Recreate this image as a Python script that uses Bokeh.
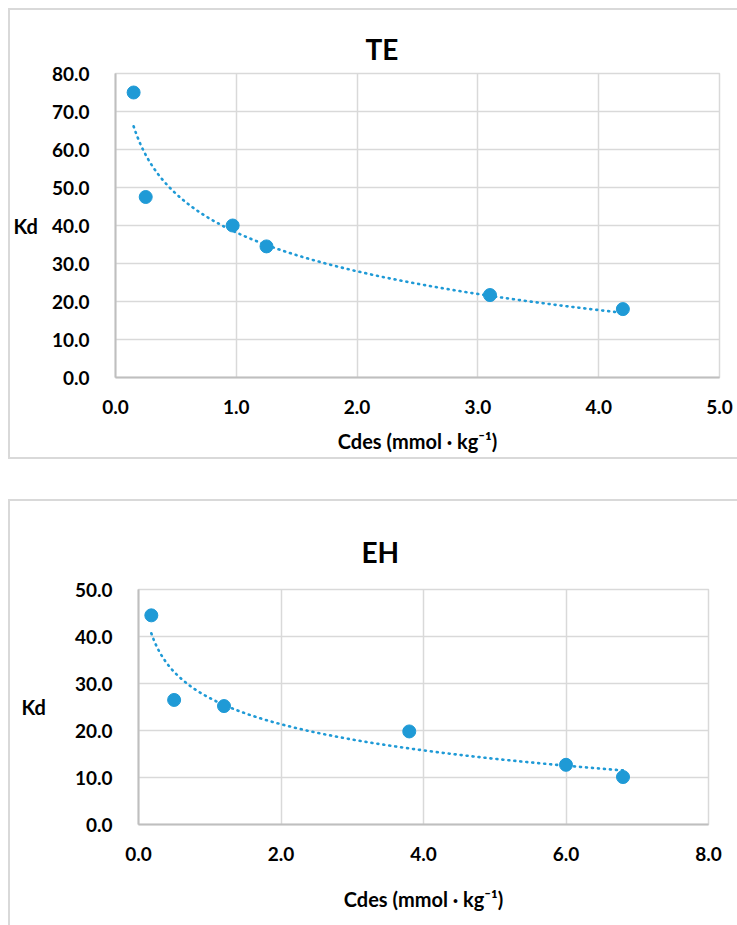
import numpy as np
from bokeh.plotting import figure
from bokeh.models import FixedTicker, PrintfTickFormatter, Range1d
from bokeh.embed import file_html
from bokeh.resources import INLINE

# ---- data ----
te_title = "TE"
te_cdes = [0.15, 0.25, 0.97, 1.25, 3.10, 4.20]
te_kd = [75.0, 47.5, 40.0, 34.5, 21.7, 18.0]
te_xticks = [0, 1, 2, 3, 4, 5]
te_yticks = [0, 10, 20, 30, 40, 50, 60, 70, 80]

eh_title = "EH"
eh_cdes = [0.18, 0.50, 1.20, 3.80, 6.00, 6.80]
eh_kd = [44.5, 26.5, 25.2, 19.8, 12.7, 10.1]
eh_xticks = [0, 2, 4, 6, 8]
eh_yticks = [0, 10, 20, 30, 40, 50]

x_label = "Cdes (mmol · kg⁻¹)"
y_label = "Kd"

BLUE = "#1F9AD6"
GRID = "#D9D9D9"
AXIS = "#BFBFBF"
FONT = "Lato"


def make_chart(title, xs, ys, xticks, yticks, width, height, left, right, top, bottom,
               margin, title_offset, title_standoff, xlab_standoff, ylab_standoff):
    p = figure(width=width, height=height, output_backend="svg", toolbar_location=None,
               x_range=Range1d(xticks[0], xticks[-1]), y_range=Range1d(yticks[0], yticks[-1]),
               min_border_left=left, min_border_right=right, min_border_top=top,
               min_border_bottom=bottom, margin=margin,
               styles={"outline": "2px solid #D9D9D9"})

    p.title.text = title
    p.title.align = "left"
    p.title.offset = title_offset
    p.title.standoff = title_standoff
    p.title.text_font = FONT
    p.title.text_font_size = "28px"
    p.title.text_font_style = "bold"
    p.title.text_color = "#000000"

    # logarithmic trend line fitted to the data (like a spreadsheet trendline)
    lx = np.log(np.array(xs))
    b, a = np.polyfit(lx, np.array(ys), 1)
    tx = np.linspace(min(xs), max(xs), 300)
    ty = a + b * np.log(tx)
    p.line(tx, ty, line_color=BLUE, line_width=2.6, line_dash="1 5", line_cap="round")

    p.scatter(xs, ys, size=13, fill_color=BLUE, line_color=BLUE)

    p.xaxis.ticker = FixedTicker(ticks=xticks)
    p.yaxis.ticker = FixedTicker(ticks=yticks)
    p.xaxis.formatter = PrintfTickFormatter(format="%.1f")
    p.yaxis.formatter = PrintfTickFormatter(format="%.1f")
    for ax in (p.xaxis[0], p.yaxis[0]):
        ax.major_tick_line_color = None
        ax.minor_tick_line_color = None
        ax.axis_line_color = AXIS
        ax.axis_line_width = 2
        ax.major_label_text_font = FONT
        ax.major_label_text_font_size = "19px"
        ax.major_label_text_font_style = "bold"
        ax.major_label_text_color = "#000000"
        ax.axis_label_text_font = FONT
        ax.axis_label_text_font_size = "20px"
        ax.axis_label_text_font_style = "bold"
        ax.axis_label_text_color = "#000000"
    p.xaxis.major_label_standoff = 16
    p.yaxis.major_label_standoff = 20
    p.xaxis.axis_label = x_label
    p.yaxis.axis_label = y_label
    p.yaxis.axis_label_orientation = "horizontal"
    p.xaxis.axis_label_standoff = xlab_standoff
    p.yaxis.axis_label_standoff = ylab_standoff

    p.grid.grid_line_color = GRID
    p.grid.grid_line_width = 1.5
    p.outline_line_color = GRID
    p.outline_line_width = 1.5
    p.background_fill_color = "white"
    p.border_fill_color = "white"
    return p


p1 = make_chart(te_title, te_cdes, te_kd, te_xticks, te_yticks,
                width=727, height=447, left=102, right=18, top=63, bottom=80,
                margin=(10, 0, 0, 10), title_offset=250, title_standoff=15,
                xlab_standoff=12, ylab_standoff=11)

p2 = make_chart(eh_title, eh_cdes, eh_kd, eh_xticks, eh_yticks,
                width=727, height=424, left=128, right=29, top=88, bottom=101,
                margin=(44, 0, 0, 10), title_offset=223, title_standoff=41,
                xlab_standoff=23, ylab_standoff=26)

with open("out.html", "w") as f:
    f.write(file_html([p1, p2], INLINE))
